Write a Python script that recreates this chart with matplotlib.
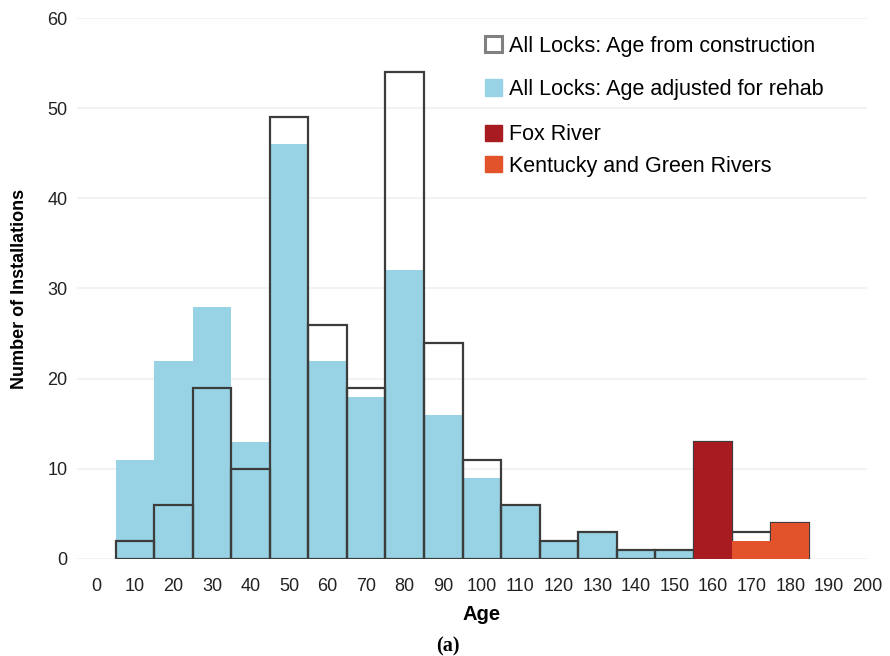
import numpy as np
import matplotlib.pyplot as plt
from matplotlib.patches import Patch

plt.rcParams['font.family'] = ['Liberation Sans', 'DejaVu Sans']

# bin centres (age, years) and counts
ages = [10, 20, 30, 40, 50, 60, 70, 80, 90, 100, 110, 120, 130, 140, 150, 160, 170, 180]
construction = [2, 6, 19, 10, 49, 26, 19, 54, 24, 11, 6, 2, 3, 1, 1, 13, 3, 4]
rehab_ages = [10, 20, 30, 40, 50, 60, 70, 80, 90, 100, 110, 120, 130, 140, 150]
rehab = [11, 22, 28, 13, 46, 22, 18, 32, 16, 9, 6, 2, 3, 1, 1]
fox_ages = [160]
fox = [13]
kg_ages = [170, 180]
kg = [2, 4]

blue = '#97d3e4'
red = '#a81c21'
orange = '#e2532b'
edge = '#3c3c3c'

fig = plt.figure(figsize=(8.9, 6.56), dpi=100)
ax = fig.add_axes([0.0865, 0.148, 0.888, 0.8245])

ax.bar(rehab_ages, rehab, width=10, color=blue, zorder=2)
ax.bar(ages, construction, width=10, fill=False, edgecolor=edge, linewidth=1.6, zorder=3)
ax.bar(fox_ages, fox, width=10, color=red, zorder=4)
ax.bar(kg_ages, kg, width=10, color=orange, zorder=4)

ax.set_xlim(-5, 200)
ax.set_ylim(0, 60)
ax.set_xticks(range(0, 201, 10))
ax.set_yticks(range(0, 61, 10))
ax.tick_params(length=0, labelsize=13, colors='#222222')
ax.tick_params(axis='x', pad=13.5)
ax.tick_params(axis='y', pad=7)
ax.grid(axis='y', color='#f0f0f0', linewidth=1.2, zorder=0)
ax.set_axisbelow(True)
for s in ax.spines.values():
    s.set_visible(False)

ax.set_xlabel('Age', fontsize=14.5, fontweight='bold')
ax.xaxis.set_label_coords(0.512, -0.086)
ax.set_ylabel('Number of Installations', fontsize=13, fontweight='bold', labelpad=14)

h1 = [Patch(facecolor='white', edgecolor='#808080', linewidth=2.2),
      Patch(facecolor=blue, edgecolor=blue)]
leg1 = ax.legend(h1, ['All Locks: Age from construction', 'All Locks: Age adjusted for rehab'],
                 loc='center left', bbox_to_anchor=(0.5056, 0.908), frameon=False, fontsize=15.5,
                 labelspacing=1.04, handlelength=0.8, handleheight=0.8, handletextpad=0.3,
                 borderaxespad=0)
ax.add_artist(leg1)
h2 = [Patch(facecolor=red, edgecolor=red), Patch(facecolor=orange, edgecolor=orange)]
ax.legend(h2, ['Fox River', 'Kentucky and Green Rivers'],
          loc='center left', bbox_to_anchor=(0.5056, 0.755), frameon=False, fontsize=15.5,
          labelspacing=0.48, handlelength=0.8, handleheight=0.8, handletextpad=0.3,
          borderaxespad=0)

fig.text(448 / 890, 1 - 646 / 656, '(a)', ha='center', va='center', fontsize=14.5,
         fontweight='bold', family=['Liberation Serif', 'DejaVu Serif'])

fig.savefig('out.png', dpi=100)
